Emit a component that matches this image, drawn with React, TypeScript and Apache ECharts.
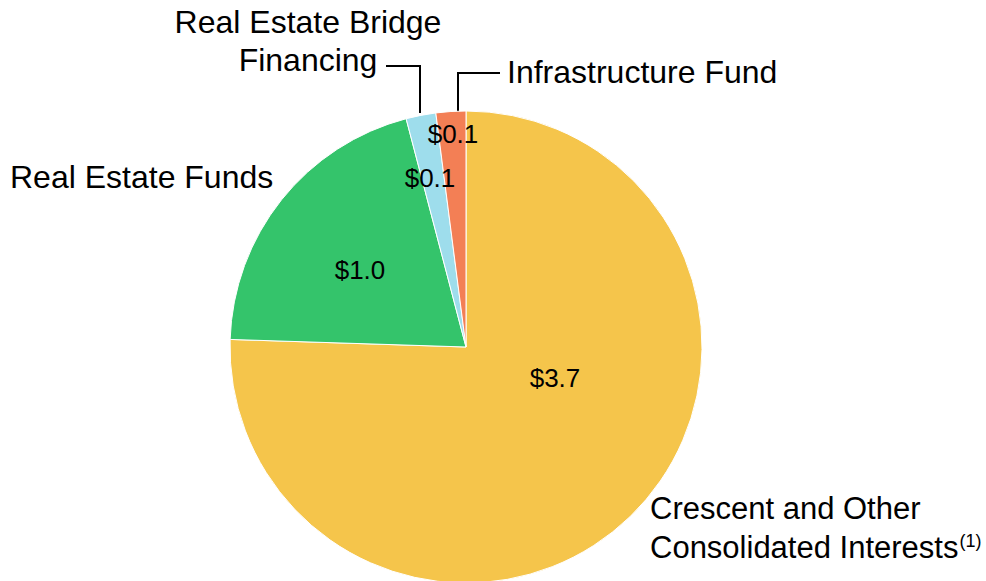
import React, { useEffect, useRef } from "react";
import * as echarts from "echarts";

const categories = [
  "Crescent and Other Consolidated Interests",
  "Real Estate Funds",
  "Real Estate Bridge Financing",
  "Infrastructure Fund",
];
const values = [3.7, 1.0, 0.1, 0.1];
const valueLabels = ["$3.7", "$1.0", "$0.1", "$0.1"];
const nameLabels = [
  "{c|Crescent and Other}\n{c|Consolidated Interests}{s|(1)}",
  "{t|Real Estate Funds}",
  "{t|Real Estate Bridge}\n{t|Financing}",
  "{t|Infrastructure Fund}",
];
const colors = ["#F5C54B", "#34C46B", "#9EDDEC", "#F37F55"];

const FONT = "'Liberation Sans', Arial, Helvetica, sans-serif";

// label placements (pixels)
const valuePos = [
  [555, 378],
  [360, 270],
  [430, 178],
  [453, 134],
];
const namePos: [number, number, string][] = [
  [650, 528, "left"],
  [10, 177, "left"],
  [308, 41, "center"],
  [507, 72, "left"],
];

export default function App() {
  const ref = useRef<HTMLDivElement>(null);
  useEffect(() => {
    if (!ref.current) return;
    const chart = echarts.init(ref.current, undefined, { renderer: "svg" });
    const data = categories.map((c, i) => ({
      name: c,
      value: values[i],
      itemStyle: { color: colors[i] },
    }));
    chart.setOption({
      animation: false,
      backgroundColor: "#ffffff",
      series: [
        {
          type: "pie",
          center: [466, 347],
          radius: 236,
          startAngle: 90,
          clockwise: true,
          silent: true,
          data,
          itemStyle: { borderColor: "#ffffff", borderWidth: 1 },
          label: {
            show: true,
            position: "inside",
            formatter: (p: any) => valueLabels[p.dataIndex],
            fontFamily: FONT,
            fontSize: 26,
            color: "#000000",
          },
          labelLine: { show: false },
          labelLayout: (p: any) => ({
            x: valuePos[p.dataIndex][0],
            y: valuePos[p.dataIndex][1],
            align: "center",
            verticalAlign: "middle",
          }),
        },
        {
          type: "pie",
          center: [466, 347],
          radius: 236,
          startAngle: 90,
          clockwise: true,
          silent: true,
          data: categories.map((c, i) => ({
            name: c,
            value: values[i],
            itemStyle: { color: "rgba(0,0,0,0)", borderWidth: 0 },
          })),
          label: {
            show: true,
            position: "inside",
            overflow: "none",
            formatter: (p: any) => nameLabels[p.dataIndex],
            rich: {
              t: { fontFamily: FONT, fontSize: 32, color: "#000000", lineHeight: 38 },
              c: { fontFamily: FONT, fontSize: 31, color: "#000000", lineHeight: 39 },
              s: {
                fontFamily: FONT,
                fontSize: 18,
                color: "#000000",
                verticalAlign: "top",
                lineHeight: 39,
                padding: [4, 0, 0, 1],
              },
            },
          },
          labelLine: { show: false },
          labelLayout: (p: any) => ({
            x: namePos[p.dataIndex][0],
            y: namePos[p.dataIndex][1],
            align: namePos[p.dataIndex][2],
            verticalAlign: "middle",
          }),
        },
      ],
      graphic: [
        {
          type: "polyline",
          silent: true,
          shape: { points: [[386, 66], [420, 66], [420, 113]] },
          style: { stroke: "#000000", lineWidth: 2, fill: null },
        },
        {
          type: "polyline",
          silent: true,
          shape: { points: [[500, 73], [458, 73], [458, 112]] },
          style: { stroke: "#000000", lineWidth: 2, fill: null },
        },
      ],
    });
    return () => chart.dispose();
  }, []);
  return (
    <div
      ref={ref}
      style={{ position: "fixed", left: 0, top: 0, width: 986, height: 581 }}
    />
  );
}
